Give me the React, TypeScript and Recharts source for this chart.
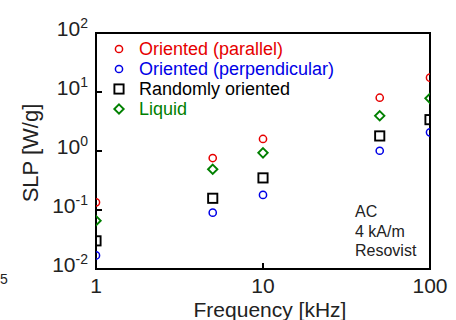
import React from "react";
import { ScatterChart, Scatter, XAxis, YAxis, ReferenceArea, Legend } from "recharts";

const FREQ = [1, 5, 10, 50, 100];
const PARALLEL = [0.135, 0.76, 1.6, 8.0, 17.5];
const PERPENDICULAR = [0.017, 0.09, 0.18, 1.01, 2.07];
const RANDOM = [0.03, 0.158, 0.35, 1.8, 3.4];
const LIQUID = [0.066, 0.49, 0.93, 3.95, 7.8];

const X_TICKS = [1, 10, 100];
const Y_TICKS = [0.01, 0.1, 1, 10, 100];
const Y_EXP: Record<number, string> = { 0.01: "-2", 0.1: "-1", 1: "0", 10: "1", 100: "2" };

const FONT = "'Liberation Sans', Arial, Helvetica, sans-serif";

type Shape = "circle" | "square" | "diamond";

const SERIES: { name: string; color: string; shape: Shape; values: number[] }[] = [
  { name: "Oriented (parallel)", color: "#e60000", shape: "circle", values: PARALLEL },
  { name: "Oriented (perpendicular)", color: "#0000e6", shape: "circle", values: PERPENDICULAR },
  { name: "Randomly oriented", color: "#000000", shape: "square", values: RANDOM },
  { name: "Liquid", color: "#008000", shape: "diamond", values: LIQUID },
];

function Marker({ cx, cy, color, shape }: { cx: number; cy: number; color: string; shape: Shape }) {
  if (shape === "square") {
    return <rect x={cx - 4.6} y={cy - 4.6} width={9.2} height={9.2} fill="none" stroke={color} strokeWidth={1.9} />;
  }
  if (shape === "diamond") {
    const r = 4.7;
    return (
      <polygon
        points={`${cx},${cy - r} ${cx + r},${cy} ${cx},${cy + r} ${cx - r},${cy}`}
        fill="none"
        stroke={color}
        strokeWidth={1.9}
      />
    );
  }
  return <circle cx={cx} cy={cy} r={3.6} fill="none" stroke={color} strokeWidth={1.5} />;
}

const YTick = (props: any) => {
  const { x, y, payload } = props;
  return (
    <g>
      <line x1={x} x2={x + 6} y1={y} y2={y} stroke="#000" strokeWidth={2} />
      <text x={x - 8} y={y + 3} textAnchor="end" fontFamily={FONT} fontSize={21} fill="#222">
        10
        <tspan fontSize={14} dy={-8}>
          {Y_EXP[payload.value]}
        </tspan>
      </text>
    </g>
  );
};

const XTick = (props: any) => {
  const { x, y, payload } = props;
  return (
    <g>
      <line x1={x} x2={x} y1={y} y2={y - 6} stroke="#000" strokeWidth={2} />
      <text x={x} y={y + 24} textAnchor="middle" fontFamily={FONT} fontSize={21} fill="#222">
        {payload.value}
      </text>
    </g>
  );
};

const LegendBox = () => (
  <div style={{ fontFamily: FONT, fontSize: 18 }}>
    {SERIES.map((s) => (
      <div key={s.name} style={{ display: "flex", alignItems: "center", height: 20, color: s.color, whiteSpace: "nowrap" }}>
        <svg width={20} height={20}>
          <Marker cx={10} cy={10} color={s.color} shape={s.shape} />
        </svg>
        <span style={{ marginLeft: 10 }}>{s.name}</span>
      </div>
    ))}
  </div>
);

export default function App() {
  return (
    <div style={{ position: "relative", width: 456, height: 320, background: "#fff", overflow: "hidden" }}>
      <style>{"body{margin:0}"}</style>
      <ScatterChart width={456} height={320} margin={{ top: 33, right: 26, left: 0, bottom: 0 }}>
        <XAxis
          type="number"
          dataKey="f"
          scale="log"
          domain={[1, 100]}
          ticks={X_TICKS}
          allowDataOverflow
          height={51}
          tickSize={0}
          tickMargin={0}
          axisLine={false}
          tickLine={false}
          tick={<XTick />}
          label={(p: any) => {
            const vb = p.viewBox;
            return (
              <text x={vb.x + vb.width / 2 + 7} y={vb.y + 48} textAnchor="middle" fontFamily={FONT} fontSize={21} fill="#222">
                Frequency [kHz]
              </text>
            );
          }}
        />
        <YAxis
          type="number"
          dataKey="v"
          scale="log"
          domain={[0.01, 100]}
          ticks={Y_TICKS}
          allowDataOverflow
          width={96}
          tickSize={0}
          tickMargin={0}
          axisLine={false}
          tickLine={false}
          tick={<YTick />}
          label={(p: any) => {
            const vb = p.viewBox;
            const cx = vb.x + 30;
            const cy = vb.y + vb.height / 2 + 2;
            return (
              <text
                x={cx}
                y={cy}
                transform={`rotate(-90 ${cx} ${cy})`}
                textAnchor="middle"
                dominantBaseline="central"
                fontFamily={FONT}
                fontSize={22}
                fill="#222"
              >
                SLP [W/g]
              </text>
            );
          }}
        />
        <ReferenceArea x1={1} x2={100} y1={0.01} y2={100} fill="none" stroke="#000" strokeWidth={2} ifOverflow="visible" />
        {SERIES.map((s) => (
          <Scatter
            key={s.name}
            name={s.name}
            data={FREQ.map((f, i) => ({ f, v: s.values[i] }))}
            fill={s.color}
            isAnimationActive={false}
            shape={(p: any) => <Marker cx={p.cx} cy={p.cy} color={s.color} shape={s.shape} />}
          />
        ))}
        <Legend
          layout="vertical"
          align="center"
          verticalAlign="middle"
          wrapperStyle={{ left: 109, top: 39, width: "auto" }}
          content={<LegendBox />}
        />
      </ScatterChart>
      <div
        style={{
          position: "absolute",
          left: 355,
          top: 202,
          fontFamily: FONT,
          fontSize: 16,
          lineHeight: "19.5px",
          color: "#222",
        }}
      >
        <div>AC</div>
        <div>4 kA/m</div>
        <div>Resovist</div>
      </div>
      <span style={{ position: "absolute", left: 0, top: 271, fontFamily: FONT, fontSize: 14, color: "#222" }}>5</span>
    </div>
  );
}
